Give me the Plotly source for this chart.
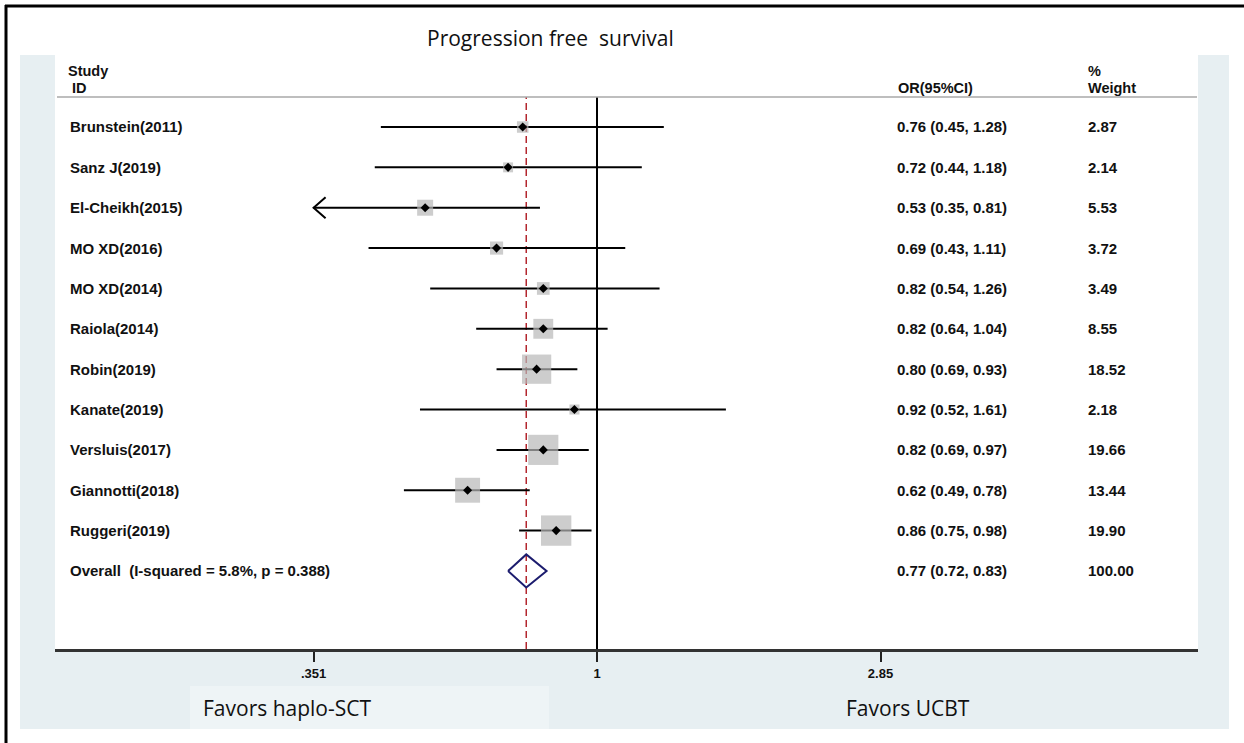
import plotly.graph_objects as go
import math

# ---------------- data ----------------
studies = ["Brunstein(2011)", "Sanz J(2019)", "El-Cheikh(2015)", "MO XD(2016)",
           "MO XD(2014)", "Raiola(2014)", "Robin(2019)", "Kanate(2019)",
           "Versluis(2017)", "Giannotti(2018)", "Ruggeri(2019)"]
or_vals = [0.76, 0.72, 0.53, 0.69, 0.82, 0.82, 0.80, 0.92, 0.82, 0.62, 0.86]
ci_lo = [0.45, 0.44, 0.35, 0.43, 0.54, 0.64, 0.69, 0.52, 0.69, 0.49, 0.75]
ci_hi = [1.28, 1.18, 0.81, 1.11, 1.26, 1.04, 0.93, 1.61, 0.97, 0.78, 0.98]
weights = [2.87, 2.14, 5.53, 3.72, 3.49, 8.55, 18.52, 2.18, 19.66, 13.44, 19.90]

overall_label = "Overall  (I-squared = 5.8%, p = 0.388)"
overall_or = 0.77
overall_lo = 0.72
overall_hi = 0.83
overall_weight = 100.00

tick_vals = [0.351, 1, 2.85]
tick_text = [".351", "1", "2.85"]

title_text = "Progression free  survival"
left_note = "Favors haplo-SCT"
right_note = "Favors UCBT"

# ---------------- layout helpers ----------------
W, H = 1244, 743
def px(x):
    return x / W
def py(y):
    return 1 - y / H

PLOT_L, PLOT_R, PLOT_T, PLOT_B = 55, 1198, 97, 649
X_CLIP = tick_vals[0]  # lower display limit (arrow)

n = len(studies)
rows = list(range(n))
overall_row = n

fig = go.Figure()

# CI lines
for i in range(n):
    lo = max(ci_lo[i], X_CLIP)
    fig.add_trace(go.Scatter(x=[lo, ci_hi[i]], y=[i, i], mode="lines",
                             line=dict(color="black", width=2),
                             hoverinfo="skip", showlegend=False))
    if ci_lo[i] < X_CLIP:
        f = math.exp(12 / 270.7)
        fig.add_trace(go.Scatter(x=[X_CLIP * f, X_CLIP, X_CLIP * f],
                                 y=[i - 0.26, i, i + 0.26], mode="lines",
                                 line=dict(color="black", width=2),
                                 hoverinfo="skip", showlegend=False))

# weight squares
fig.add_trace(go.Scatter(x=or_vals, y=rows, mode="markers",
                         marker=dict(symbol="square", color="#b8b8b8",
                                     size=[6.8 * math.sqrt(w) for w in weights],
                                     line=dict(width=0)),
                         hoverinfo="skip", showlegend=False))
# point estimates
fig.add_trace(go.Scatter(x=or_vals, y=rows, mode="markers",
                         marker=dict(symbol="diamond", color="black", size=7),
                         hoverinfo="skip", showlegend=False))
# overall diamond
fig.add_trace(go.Scatter(x=[overall_lo, overall_or, overall_hi, overall_or, overall_lo],
                         y=[overall_row, overall_row - 0.41, overall_row,
                            overall_row + 0.41, overall_row],
                         mode="lines", line=dict(color="#1c1c6e", width=2),
                         hoverinfo="skip", showlegend=False))

shapes = []
# background regions
shapes.append(dict(type="rect", xref="paper", yref="paper", x0=px(20), x1=px(1229),
                   y0=py(729), y1=py(55), fillcolor="#e7eff2", line=dict(width=0),
                   layer="below"))
shapes.append(dict(type="rect", xref="paper", yref="paper", x0=px(PLOT_L), x1=px(PLOT_R),
                   y0=py(PLOT_B), y1=py(55), fillcolor="white", line=dict(width=0),
                   layer="below"))
shapes.append(dict(type="rect", xref="paper", yref="paper", x0=px(190), x1=px(549),
                   y0=py(729), y1=py(686), fillcolor="#eef4f6", line=dict(width=0),
                   layer="below"))
# outer frame (top & left)
shapes.append(dict(type="line", xref="paper", yref="paper", x0=px(5), x1=1,
                   y0=py(6), y1=py(6), line=dict(color="black", width=3)))
shapes.append(dict(type="line", xref="paper", yref="paper", x0=px(6), x1=px(6),
                   y0=py(5), y1=0, line=dict(color="black", width=3)))
# header line
shapes.append(dict(type="line", xref="paper", yref="paper", x0=px(57), x1=px(1197),
                   y0=py(97), y1=py(97), line=dict(color="#a8a8a8", width=1.5)))
# null line and overall dashed line
shapes.append(dict(type="line", xref="x", yref="paper", x0=1, x1=1,
                   y0=py(PLOT_B), y1=py(PLOT_T), line=dict(color="black", width=2),
                   layer="below"))
shapes.append(dict(type="line", xref="x", yref="paper", x0=overall_or, x1=overall_or,
                   y0=py(PLOT_B), y1=py(PLOT_T),
                   line=dict(color="#b3262e", width=1.5, dash="7px,4px"),
                   layer="below"))

txt_font = dict(family="Liberation Sans, Arial", size=15, color="#111111", weight="bold")
ann = []
all_labels = studies + [overall_label]
all_or = [f"{o:.2f} ({l:.2f}, {h:.2f})" for o, l, h in zip(or_vals, ci_lo, ci_hi)]
all_or.append(f"{overall_or:.2f} ({overall_lo:.2f}, {overall_hi:.2f})")
all_w = [f"{w:.2f}" for w in weights] + [f"{overall_weight:.2f}"]
for i, (lab, o, w) in enumerate(zip(all_labels, all_or, all_w)):
    ann.append(dict(x=px(68), y=i, xref="paper", yref="y", text=lab, showarrow=False,
                    xanchor="left", yanchor="middle", font=txt_font))
    ann.append(dict(x=px(895), y=i, xref="paper", yref="y", text=o, showarrow=False,
                    xanchor="left", yanchor="middle", font=txt_font))
    ann.append(dict(x=px(1086), y=i, xref="paper", yref="y", text=w, showarrow=False,
                    xanchor="left", yanchor="middle", font=txt_font))

hdr_font = dict(family="Liberation Sans, Arial", size=14.5, color="#111111", weight="bold")
for text, x, y in [("Study", 66, 71), ("ID", 70, 88), ("OR(95%CI)", 896, 88),
                   ("%", 1086, 71), ("Weight", 1086, 88)]:
    ann.append(dict(x=px(x), y=py(y), xref="paper", yref="paper", text=text,
                    showarrow=False, xanchor="left", yanchor="middle", font=hdr_font))

note_font = dict(family="Open Sans", size=21, color="#111111")
ann.append(dict(x=px(550), y=py(38), xref="paper", yref="paper", text=title_text,
                showarrow=False, xanchor="center", yanchor="middle", font=note_font))
ann.append(dict(x=px(287), y=py(708), xref="paper", yref="paper", text=left_note,
                showarrow=False, xanchor="center", yanchor="middle", font=note_font))
ann.append(dict(x=px(908), y=py(708), xref="paper", yref="paper", text=right_note,
                showarrow=False, xanchor="center", yanchor="middle", font=note_font))

x_left = (PLOT_L - 597) / 623.3
x_right = (PLOT_R - 597) / 623.3
row0_px, row_step = 127, 40.36
y_top = (PLOT_T - row0_px) / row_step
y_bot = (PLOT_B - row0_px) / row_step

fig.update_layout(
    width=W, height=H, autosize=False,
    margin=dict(l=0, r=0, t=0, b=0),
    paper_bgcolor="white", plot_bgcolor="rgba(0,0,0,0)",
    shapes=shapes, annotations=ann, showlegend=False,
    xaxis=dict(type="log", range=[x_left, x_right],
               domain=[px(PLOT_L), px(PLOT_R)],
               showgrid=False, zeroline=False,
               showline=True, linecolor="#333333", linewidth=2.5,
               ticks="outside", ticklen=10, tickwidth=1.5, tickcolor="#222222",
               tickvals=tick_vals, ticktext=tick_text, ticklabelstandoff=1,
               tickfont=dict(family="Liberation Sans, Arial", size=13, color="#111111",
                             weight="bold")),
    yaxis=dict(range=[y_bot, y_top], domain=[py(PLOT_B), py(PLOT_T)],
               showgrid=False, zeroline=False, showline=False,
               showticklabels=False, ticks=""),
)

fig.write_html("out.html",
               config={"displayModeBar": False},
               post_script="document.body.style.margin='0px';"
                           "document.body.style.overflow='hidden';")
